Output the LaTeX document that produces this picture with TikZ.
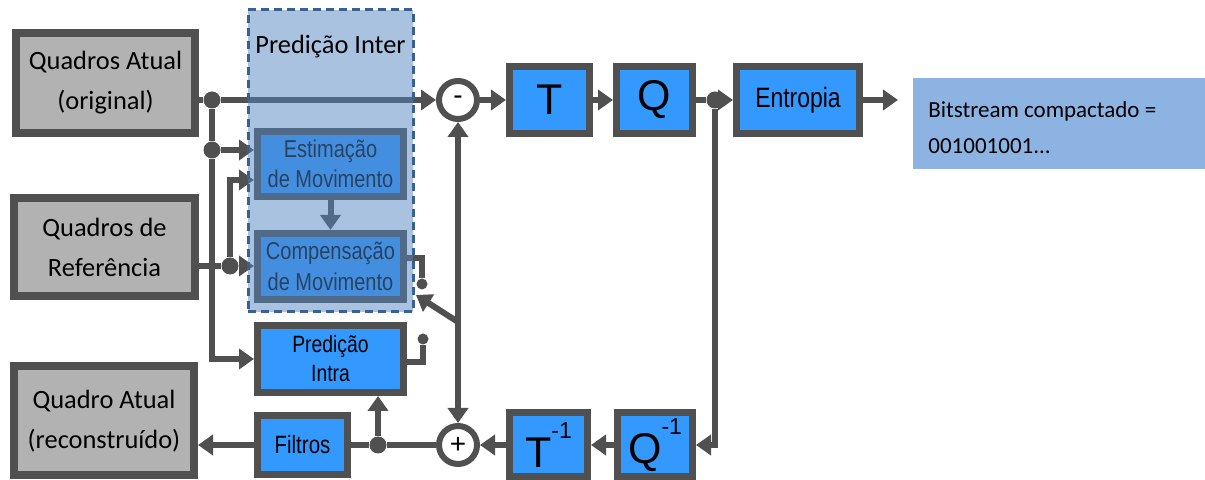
\documentclass[tikz,border=0pt]{standalone}
\usepackage{fontspec}
\setmainfont{Carlito}
\newfontfamily\arialf{Liberation Sans}
\newfontfamily\narrowf{Liberation Sans}[FakeStretch=0.82]
\usetikzlibrary{arrows.meta}
\definecolor{dk}{RGB}{80,80,80}
\definecolor{gfill}{RGB}{178,178,178}
\definecolor{bl}{RGB}{51,153,255}
\definecolor{ovl}{RGB}{83,133,193}
\definecolor{dash}{RGB}{58,96,145}
\definecolor{bits}{RGB}{141,179,226}
\pgfdeclarelayer{bg}
\pgfdeclarelayer{fg}
\pgfsetlayers{bg,main,fg}
\begin{document}
\begin{tikzpicture}[x=0.5pt,y=-0.5pt,
  line/.style={draw=dk,line width=3pt},
  arr/.style={line,-{Triangle[length=7.5pt,width=10pt]}},
  gbox/.style={draw=dk,line width=4pt,fill=gfill,inner sep=0pt,align=center,font=\fontsize{13.2}{20}\selectfont},
  bbox/.style={draw=dk,line width=3.5pt,fill=bl,inner sep=0pt,align=center},
  dot/.style={circle,fill=dk,inner sep=0pt,minimum size=8.5pt},
  term/.style={circle,fill=dk,inner sep=0pt,minimum size=5.5pt},
  sumc/.style={circle,draw=dk,line width=3pt,fill=white,inner sep=0pt,minimum size=19pt,font=\arialf\fontsize{14}{14}\selectfont}]
\useasboundingbox (0,0) rectangle (1205,480);
% gray boxes
\node[gbox,minimum width=89.5pt,minimum height=50pt] (qa) at (105.5,83) {Quadros Atual\\(original)};
\node[gbox,minimum width=90.5pt,minimum height=49pt] (qr) at (104.5,247) {Quadros de\\Referência};
\node[gbox,minimum width=90pt,minimum height=54.5pt] (qc) at (104,421) {Quadro Atual\\(reconstruído)};
% blue boxes
\node[bbox,minimum width=73pt,minimum height=32.5pt,font=\narrowf\fontsize{12.2}{15}\selectfont] (est) at (330.5,164) {Estimação\\de Movimento};
\node[bbox,minimum width=73pt,minimum height=33pt,font=\narrowf\fontsize{12.2}{15.5}\selectfont] (comp) at (330.5,266.5) {Compensação\\de Movimento};
\node[bbox,minimum width=73pt,minimum height=33.5pt,font=\narrowf\fontsize{11.8}{14.5}\selectfont] (intra) at (330.5,359) {Predição\\Intra};
\node[bbox,minimum width=45pt,minimum height=29.5pt,font=\narrowf\fontsize{12.5}{15}\selectfont] (filt) at (302.5,445) {Filtros};
\node[sumc] (minus) at (458,100) {-};
\node[bbox,minimum width=40pt,minimum height=33.5pt,font=\arialf\fontsize{21.5}{24}\selectfont] (T) at (549.5,100) {T};
\node[bbox,minimum width=38pt,minimum height=33.5pt,font=\arialf\fontsize{21.5}{24}\selectfont] (Q) at (654.5,100) {Q};
\node[bbox,minimum width=61.5pt,minimum height=33.5pt,font=\narrowf\fontsize{14}{15}\selectfont] (ent) at (798,100) {Entropia};
\node[fill=bits,minimum width=146pt,minimum height=45.5pt,inner sep=0pt] (bs) at (1059,123.5) {};
\node[anchor=west,align=left,inner sep=0pt,font=\fontsize{11.5}{18}\selectfont] (bst) at (928,128) {Bitstream compactado =\\001001001...};
\node[sumc] (plus) at (458,445) {+};
\node[bbox,minimum width=39pt,minimum height=32pt,font=\arialf\fontsize{21.5}{24}\selectfont] (Ti) at (548.5,445) {T\raisebox{1.25ex}{\fontsize{11.5}{12}\selectfont -1}};
\node[bbox,minimum width=37.5pt,minimum height=32pt,font=\arialf\fontsize{21.5}{24}\selectfont] (Qi) at (655,445) {Q\raisebox{1.25ex}{\fontsize{11.5}{12}\selectfont -1}};
% junctions
\node[dot] (j1) at (212,100) {};
\node[dot] (j2) at (212,150) {};
\node[dot] (j3) at (230,266) {};
\node[dot] (j4) at (715,100) {};
\node[dot] (j5) at (378,445) {};
\node[term] (t1) at (422,284) {};
\node[term] (t2) at (423,339) {};
\coordinate (e2) at (0,180);
\coordinate (c258) at (0,258);
\coordinate (c362) at (0,362);
\coordinate (piv) at (458,322);
\coordinate (swt) at (416,295);
\coordinate (out) at (898,100);
\begin{pgfonlayer}{bg}
\draw[line] (qa.east |- j1) -- (j1);
\draw[arr] (j1) -- (minus.west);
\draw[line] (j1) -- (j2);
\draw[arr] (j2) |- (intra.west);
\draw[arr] (j2) -- (j2 -| est.west);
\draw[line] (qr.east |- j3) -- (j3);
\draw[arr] (j3) -- (j3 -| comp.west);
\draw[arr] (j3) |- (est.west |- e2);
\draw[arr,draw=dk] (est) -- (comp);
\draw[line] (comp.east |- c258) -| (t1);
\draw[line] (intra.east |- c362) -| (t2);
\draw[arr] (piv) -- (swt);
\draw[arr] (piv) -- (minus.south);
\draw[arr] (piv) -- (plus.north);
\draw[arr] (minus) -- (T);
\draw[arr] (T) -- (Q);
\draw[line] (Q) -- (j4);
\draw[arr] (j4) -- (ent);
\draw[arr] (ent) -- (out);
\draw[arr] (j4) |- (Qi.east);
\draw[arr] (Qi) -- (Ti);
\draw[arr] (Ti) -- (plus);
\draw[line] (plus) -- (j5);
\draw[line] (j5) -- (filt);
\draw[arr] (j5) -- (j5 |- intra.south);
\draw[arr] (filt) -- (qc.east |- filt);
\end{pgfonlayer}
\begin{pgfonlayer}{fg}
\fill[ovl,fill opacity=0.5] (248,10) rectangle (413,312);
\node[draw=dash,line width=1.5pt,dash pattern=on 4pt off 2.5pt,minimum width=82.5pt,minimum height=151pt,inner sep=0pt] (inter) at (330.5,161) {};
\node[font=\fontsize{13.2}{18}\selectfont,inner sep=0pt] (interl) at (330.5,47) {Predição Inter};
\end{pgfonlayer}
\end{tikzpicture}
\end{document}
